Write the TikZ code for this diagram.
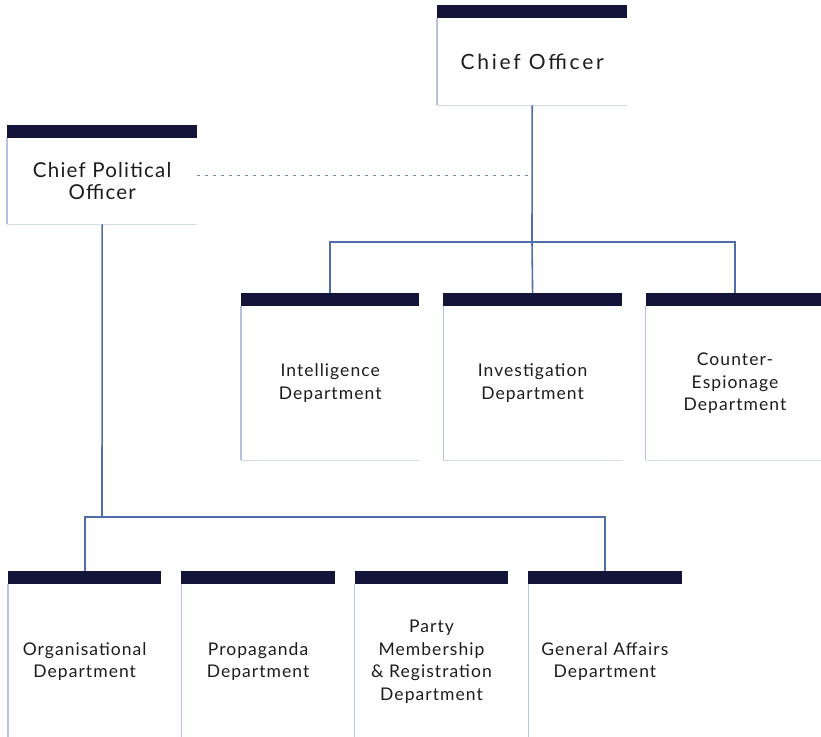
\documentclass[tikz,border=0pt]{standalone}
\usepackage{fontspec}
\setmainfont{Lato}[LetterSpace=6]
\usetikzlibrary{positioning}

\definecolor{navy}{HTML}{12143A}
\definecolor{linkblue}{HTML}{4F6DAA}
\definecolor{edgeblue}{HTML}{B3C2E0}
\definecolor{boxbase}{HTML}{D3DBEB}
\definecolor{inktext}{HTML}{1C1C1C}

\begin{document}
\begin{tikzpicture}[x=1pt, y=-1pt,
  every node/.style={font=\fontsize{17.5}{22.5}\selectfont, text=inktext, align=center},
  box/.style={anchor=north west, inner sep=0pt, minimum width=178pt, minimum height=154pt},
  chief/.style={box, minimum width=190pt, minimum height=87pt, font=\fontsize{20.5}{22}\selectfont},
  lower/.style={box, minimum width=153pt, minimum height=155pt},
  link/.style={linkblue, line width=1.6pt},
  dashlink/.style={linkblue!80, line width=1.5pt, dash pattern=on 3pt off 5pt}]
  \useasboundingbox (0,0) rectangle (821,736);

  % chiefs
  \node[chief, font=\fontsize{21}{22}\selectfont\addfontfeature{LetterSpace=13}] (co) at (437,18) {Chief Officer};
  \node[chief, minimum height=86pt] (cpo) at (7,138) {Chief Political\\Officer};

  % departments under the chief officer
  \node[box] (int) at (241,306) {Intelligence\\Department};
  \node[box, right=24pt of int] (inv) {Investigation\\Department};
  \node[box, right=24pt of inv] (ce) {Counter-\\Espionage\\Department};

  % departments under the chief political officer
  \node[lower] (org) at (8,584) {Organisational\\Department};
  \node[lower, right=20pt of org] (prop) {Propaganda\\Department};
  \node[lower, right=20pt of prop] (party) {Party\\Membership\\\& Registration\\Department};
  \node[lower, right=20pt of party] (ga) {General Affairs\\Department};

  % header bars and box edges
  \foreach \n in {co,cpo,int,inv,ce,org,prop,party,ga} {
    \fill[navy] ([yshift=13pt]\n.north west) rectangle (\n.north east);
    \draw[edgeblue, line width=1.2pt] (\n.north west) -- (\n.south west);
    \draw[boxbase, line width=1.2pt] (\n.south west) -- (\n.south east);
  }

  % connectors
  \coordinate (tjoin) at (532,242);
  \draw[link] (co.south) -- (tjoin);
  \draw[link] ([yshift=13pt]int.north) |- (tjoin) -| ([yshift=13pt]ce.north);
  \draw[link] (tjoin) -- ([yshift=13pt]inv.north);

  \coordinate (bjoin) at (102,517);
  \draw[link] (cpo.south) -- (bjoin);
  \draw[link] ([yshift=13pt]org.north) |- (bjoin) -| ([yshift=13pt]ga.north);

  \draw[dashlink] ([yshift=5.5pt]cpo.east) -- ([yshift=5.5pt]cpo.east -| co.south);
\end{tikzpicture}
\end{document}
